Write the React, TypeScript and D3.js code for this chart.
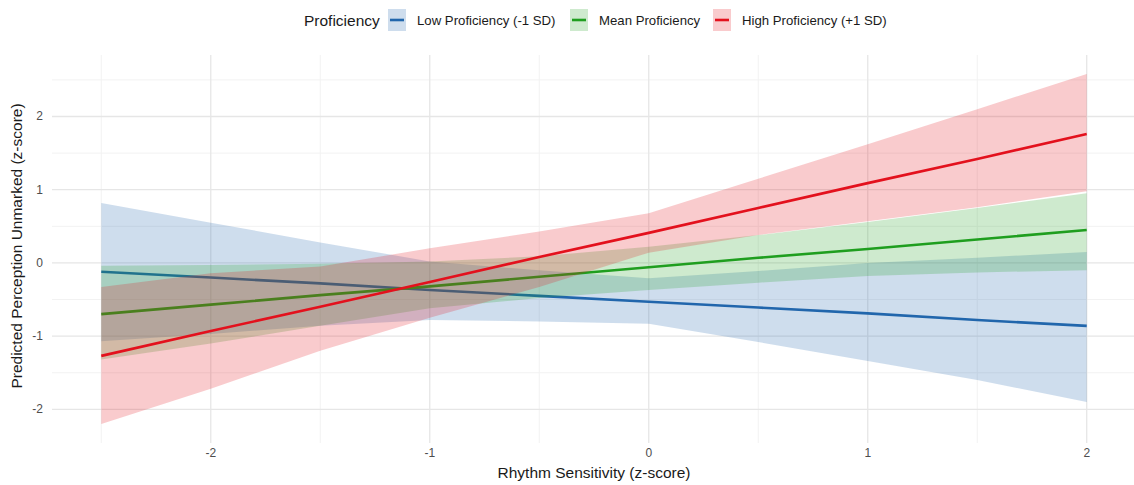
import React from 'react';
import * as d3 from 'd3';

// data
const xs = [-2.5, -2, -1.5, -1, -0.5, 0, 0.5, 1, 1.5, 2];

const lowFit = [-0.12, -0.2, -0.28, -0.37, -0.45, -0.53, -0.61, -0.69, -0.78, -0.86];
const lowLower = [-1.07, -0.97, -0.86, -0.78, -0.8, -0.83, -1.08, -1.34, -1.6, -1.9];
const lowUpper = [0.82, 0.55, 0.28, 0.02, -0.1, -0.21, -0.11, 0.0, 0.07, 0.15];

const meanFit = [-0.7, -0.57, -0.44, -0.32, -0.19, -0.06, 0.07, 0.19, 0.32, 0.45];
const meanLower = [-1.32, -1.1, -0.86, -0.62, -0.48, -0.37, -0.27, -0.18, -0.13, -0.1];
const meanUpper = [-0.04, -0.03, -0.01, 0.02, 0.09, 0.22, 0.38, 0.56, 0.75, 0.95];

const highFit = [-1.27, -0.93, -0.6, -0.26, 0.08, 0.41, 0.75, 1.09, 1.42, 1.76];
const highLower = [-2.2, -1.72, -1.2, -0.75, -0.33, 0.14, 0.38, 0.57, 0.76, 0.98];
const highUpper = [-0.33, -0.14, -0.05, 0.2, 0.43, 0.68, 1.15, 1.62, 2.1, 2.58];

const seriesNames = ['Low Proficiency (-1 SD)', 'Mean Proficiency', 'High Proficiency (+1 SD)'];
const colors = ['#2166ac', '#1f9e1f', '#e3111d'];

const xTicks = [-2, -1, 0, 1, 2];
const xMinor = [-2.5, -1.5, -0.5, 0.5, 1.5];
const yTicks = [-2, -1, 0, 1, 2];
const yMinor = [-1.5, -0.5, 0.5, 1.5, 2.5];

const FONT = '"Liberation Sans", Arial, Helvetica, sans-serif';

export default function App() {
  const width = 1134;
  const height = 485;

  const x = d3.scaleLinear().domain([-2.725, 2.225]).range([52, 1136]);
  const y = d3.scaleLinear().domain([-2.46, 2.84]).range([443, 55]);

  const series = [
    { fit: lowFit, lo: lowLower, hi: lowUpper },
    { fit: meanFit, lo: meanLower, hi: meanUpper },
    { fit: highFit, lo: highLower, hi: highUpper },
  ];

  const line = d3.line<number>()
    .x((d, i) => x(xs[i]))
    .y(d => y(d));

  const x0 = x.range()[0];
  const x1 = x.range()[1];
  const y0 = y.range()[1];
  const y1 = y.range()[0];

  // legend layout: key left edge, label left edge
  const legendKeys = [388, 570, 713];

  return (
    <svg width={width} height={height}
         style={{ position: 'absolute', left: 0, top: 0, background: '#fff' }}
         fontFamily={FONT}>
      {/* grid */}
      <g>
        {yMinor.map(v => (
          <line key={'ym' + v} x1={x0} x2={x1} y1={y(v)} y2={y(v)} stroke="#f2f2f2" strokeWidth={1} />
        ))}
        {xMinor.map(v => (
          <line key={'xm' + v} x1={x(v)} x2={x(v)} y1={y0} y2={y1} stroke="#f2f2f2" strokeWidth={1} />
        ))}
        {yTicks.map(v => (
          <line key={'yg' + v} x1={x0} x2={x1} y1={y(v)} y2={y(v)} stroke="#e6e6e6" strokeWidth={1.3} />
        ))}
        {xTicks.map(v => (
          <line key={'xg' + v} x1={x(v)} x2={x(v)} y1={y0} y2={y1} stroke="#e6e6e6" strokeWidth={1.3} />
        ))}
      </g>

      {/* ribbons and lines */}
      {series.map((s, k) => {
        const a = d3.area<number>()
          .x((d, i) => x(xs[i]))
          .y0((d, i) => y(s.lo[i]))
          .y1((d, i) => y(s.hi[i]));
        return (
          <g key={k}>
            <path d={a(s.fit) || ''} fill={colors[k]} fillOpacity={0.22} />
            <path d={line(s.fit) || ''} fill="none" stroke={colors[k]} strokeWidth={2.6} />
          </g>
        );
      })}

      {/* axis labels */}
      {xTicks.map(v => (
        <text key={'xt' + v} x={x(v)} y={457} textAnchor="middle" fontSize={12} fill="#4d4d4d">{v}</text>
      ))}
      {yTicks.map(v => (
        <text key={'yt' + v} x={43} y={y(v) + 4} textAnchor="end" fontSize={12} fill="#4d4d4d">{v}</text>
      ))}

      <text x={(x0 + x1) / 2} y={478} textAnchor="middle" fontSize={15.5} fill="#1a1a1a">Rhythm Sensitivity (z-score)</text>
      <text transform={`translate(22,${(y0 + y1) / 2 - 3}) rotate(-90)`} textAnchor="middle" fontSize={15.5} fill="#1a1a1a">
        Predicted Perception Unmarked (z-score)
      </text>

      {/* legend */}
      <text x={304} y={26} fontSize={15.5} fill="#1a1a1a">Proficiency</text>
      {seriesNames.map((name, k) => (
        <g key={name} transform={`translate(${legendKeys[k]},9)`}>
          <rect x={0} y={0} width={18} height={22} fill={colors[k]} fillOpacity={0.22} />
          <line x1={2} x2={16} y1={11} y2={11} stroke={colors[k]} strokeWidth={2.6} />
          <text x={29} y={16} fontSize={13.2} fill="#1a1a1a">{name}</text>
        </g>
      ))}
    </svg>
  );
}
